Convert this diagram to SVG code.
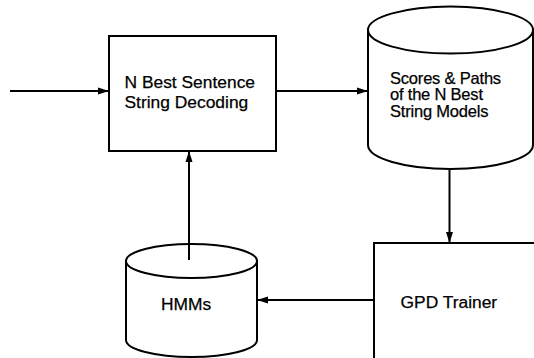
<svg xmlns="http://www.w3.org/2000/svg" width="534" height="358" viewBox="0 0 534 358">
  <style>
    .shape { fill: #ffffff; stroke: #000000; stroke-width: 2; }
    .link { fill: none; stroke: #000000; stroke-width: 2; }
    .label { font-family: "Liberation Sans", Arial, Helvetica, sans-serif; font-size: 17.4px; fill: #000000; stroke: #000000; stroke-width: 0.25; }
    .small { font-size: 16.5px; letter-spacing: -0.2px; }
  </style>
  <defs>
    <marker id="arrow" markerUnits="userSpaceOnUse" markerWidth="12" markerHeight="8" refX="11" refY="4" orient="auto">
      <path d="M0,0.5 L11,4 L0,7.5 Z" fill="#000000"/>
    </marker>
  </defs>
  <rect width="534" height="358" fill="#ffffff"/>

  <!-- decoder block -->
  <g id="decoder">
    <rect class="shape" x="109" y="36" width="167" height="115"/>
    <text class="label" x="124.5" y="88">N Best Sentence</text>
    <text class="label" x="124.5" y="107.5">String Decoding</text>
  </g>

  <!-- N-best store (cylinder) -->
  <g id="nbest-store">
    <path class="shape" d="M368,30 L368,145 A82.5,24 0 0 0 533,145 L533,30 Z"/>
    <ellipse class="shape" cx="450.5" cy="30" rx="82.5" ry="23.5"/>
    <text class="label small" x="390" y="83.5">Scores &amp; Paths</text>
    <text class="label small" x="390" y="100">of the N Best</text>
    <text class="label small" x="390" y="116.5">String Models</text>
  </g>

  <!-- trainer block -->
  <g id="trainer">
    <rect class="shape" x="374" y="243" width="200" height="160"/>
    <text class="label" x="400.5" y="307.5">GPD Trainer</text>
  </g>

  <!-- HMM store (cylinder) -->
  <g id="hmms">
    <path class="shape" d="M126,261 L126,340 A65.5,17 0 0 0 257,340 L257,261 Z"/>
    <ellipse class="shape" cx="191.5" cy="261" rx="65.5" ry="17"/>
    <text class="label" x="161" y="310">HMMs</text>
  </g>

  <!-- connectors -->
  <g id="connectors">
    <line class="link" x1="10" y1="91" x2="109" y2="91" marker-end="url(#arrow)"/>
    <line class="link" x1="276" y1="91" x2="368" y2="91" marker-end="url(#arrow)"/>
    <line class="link" x1="449.5" y1="169" x2="449.5" y2="243" marker-end="url(#arrow)"/>
    <line class="link" x1="374" y1="300" x2="257" y2="300" marker-end="url(#arrow)"/>
    <line class="link" x1="189" y1="260" x2="189" y2="151" marker-end="url(#arrow)"/>
  </g>
</svg>
